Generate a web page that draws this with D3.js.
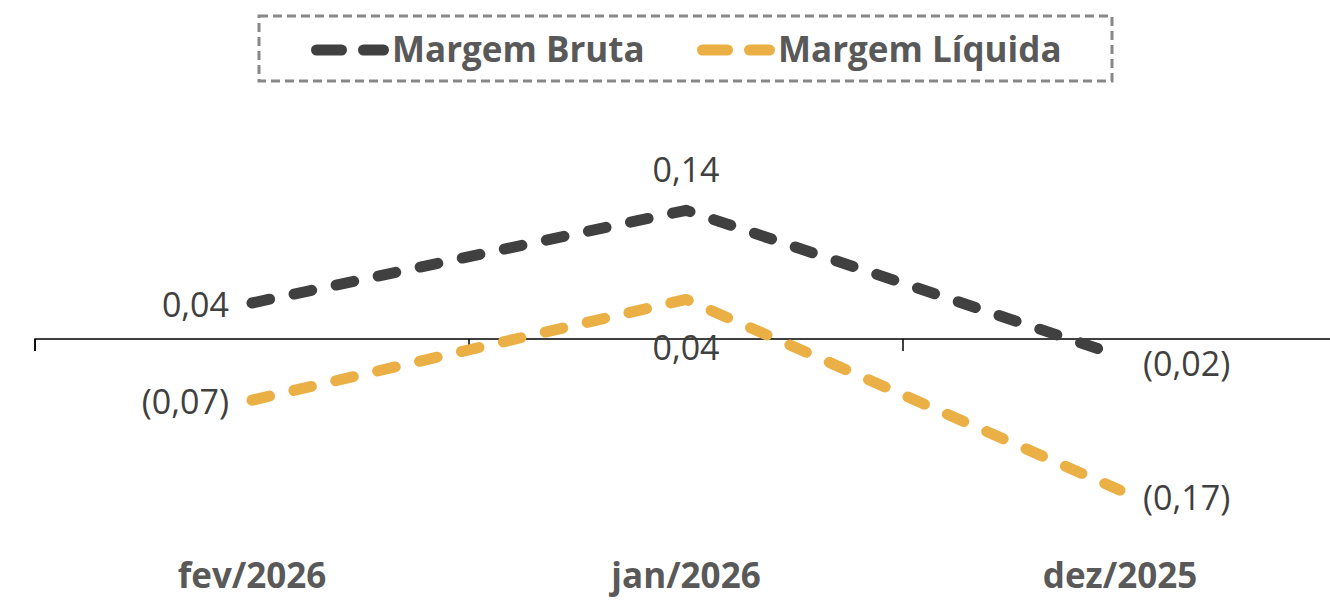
<!DOCTYPE html>
<html>
<head>
  <meta charset="utf-8">
  <script src="https://d3js.org/d3.v7.min.js"></script>
  <style>
    body { margin: 0; background: white; }
    svg text { font-family: 'Open Sans', 'Noto Sans', sans-serif; }
  </style>
</head>
<body>
  <svg id="chart" width="1330" height="600"></svg>
  <script>
    // data
    const months = ['fev/2026', 'jan/2026', 'dez/2025'];
    const seriesNames = ['Margem Bruta', 'Margem Líquida'];
    const margemBruta = [0.04, 0.143, -0.019];
    const margemLiquida = [-0.068, 0.044, -0.168];
    // where each point's label goes: left / above / below / right
    const brutaLabelPos = ['left', 'above', 'right'];
    const liquidaLabelPos = ['left', 'below', 'right'];

    const colors = ['#404040', '#ebb045'];

    const svg = d3.select('#chart');
    const zeroY = 339;
    const pxPerUnit = 900;

    const x = d3.scaleBand().domain(months).range([35, 1337]);
    const y = d3.scaleLinear().domain([-0.2, 0.2])
      .range([zeroY + 0.2 * pxPerUnit, zeroY - 0.2 * pxPerUnit]);

    const fmt = v => {
      const s = Math.abs(v).toFixed(2).replace('.', ',');
      return v < 0 ? '(' + s + ')' : s;
    };

    // x axis at zero
    const gx = svg.append('g')
      .attr('transform', 'translate(0,' + y(0) + ')');
    gx.append('path')
      .attr('d', 'M35,12V0H1330')
      .attr('fill', 'none')
      .attr('stroke', '#000').attr('stroke-width', 1.5);
    // tick marks between categories
    const edges = months.map(m => x(m)).concat([x(months[2]) + x.bandwidth()]);
    gx.selectAll('line.tk').data(edges).join('line')
      .attr('class', 'tk')
      .attr('x1', d => d).attr('x2', d => d)
      .attr('y1', 0).attr('y2', 12)
      .attr('stroke', '#000').attr('stroke-width', 1.5);

    // category labels
    svg.append('g').selectAll('text').data(months).join('text')
      .attr('x', d => x(d) + x.bandwidth() / 2)
      .attr('y', 588)
      .attr('text-anchor', 'middle')
      .attr('fill', '#595959')
      .style('font-size', '35px')
      .style('font-weight', 'bold')
      .text(d => d);

    const series = [
      { name: seriesNames[0], values: margemBruta, pos: brutaLabelPos, color: colors[0] },
      { name: seriesNames[1], values: margemLiquida, pos: liquidaLabelPos, color: colors[1] }
    ];

    const line = d3.line()
      .x((d, i) => x(months[i]) + x.bandwidth() / 2)
      .y(d => y(d));

    series.forEach(s => {
      svg.append('path')
        .datum(s.values)
        .attr('d', line)
        .attr('fill', 'none')
        .attr('stroke', s.color)
        .attr('stroke-width', 11)
        .attr('stroke-linecap', 'round')
        .attr('stroke-linejoin', 'round')
        .attr('stroke-dasharray', '18,25');

      svg.append('g').selectAll('text').data(s.values).join('text')
        .attr('x', (d, i) => {
          const cx = x(months[i]) + x.bandwidth() / 2;
          if (s.pos[i] === 'left') return cx - 23;
          if (s.pos[i] === 'right') return cx + 23;
          return cx;
        })
        .attr('y', (d, i) => {
          const cy = y(d);
          if (s.pos[i] === 'above') return cy - 28;
          if (s.pos[i] === 'below') return cy + 61;
          if (s.pos[i] === 'right') return cy + 20;
          return cy + 14;
        })
        .attr('text-anchor', (d, i) => s.pos[i] === 'left' ? 'end' : (s.pos[i] === 'right' ? 'start' : 'middle'))
        .attr('fill', '#404040')
        .style('font-size', '34px')
        .text(d => fmt(d));
    });

    // legend
    const legend = svg.append('g');
    legend.append('rect')
      .attr('x', 259).attr('y', 16)
      .attr('width', 853).attr('height', 65)
      .attr('fill', 'none')
      .attr('stroke', '#888')
      .attr('stroke-width', 3)
      .attr('stroke-dasharray', '9,5');

    const legendX = [311, 697];
    series.forEach((s, i) => {
      const g = legend.append('g').attr('transform', 'translate(' + legendX[i] + ',50)');
      g.append('line')
        .attr('x1', 5.5).attr('x2', 72.5)
        .attr('y1', 0).attr('y2', 0)
        .attr('stroke', s.color)
        .attr('stroke-width', 11)
        .attr('stroke-linecap', 'round')
        .attr('stroke-dasharray', '25,22');
      g.append('text')
        .attr('x', 81).attr('y', 12)
        .attr('fill', '#595959')
        .style('font-size', '35px')
        .style('font-weight', 'bold')
        .text(s.name);
    });
  </script>
</body>
</html>
